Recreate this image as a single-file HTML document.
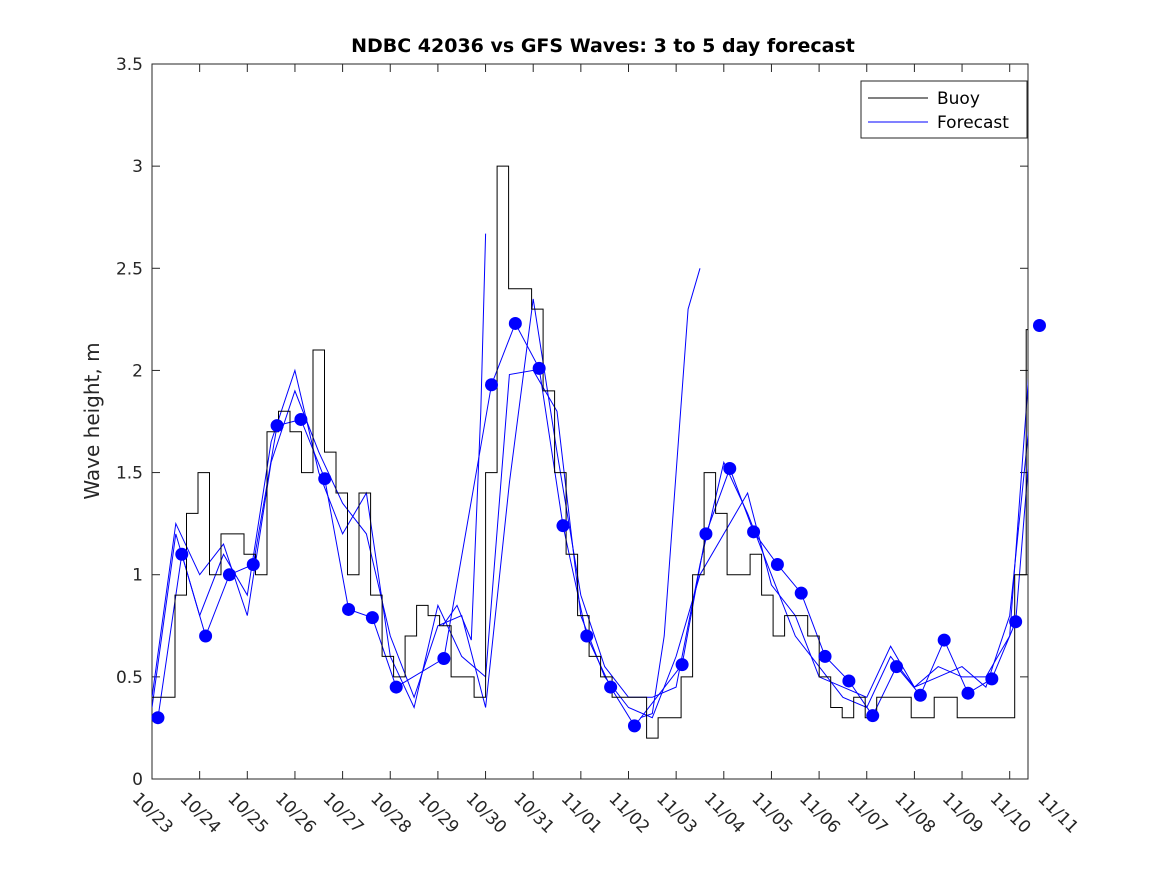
<!DOCTYPE html>
<html><head><meta charset="utf-8"><style>
body{margin:0;background:#fff;}
svg{display:block;font-family:"DejaVu Sans","Liberation Sans",sans-serif;}
</style></head><body>
<svg id="chart" width="1167" height="875">
<rect width="1167" height="875" fill="#fff"/>
<g id="plot"></g>
</svg>
<script>
const yTicks=[0,0.5,1,1.5,2,2.5,3,3.5];
const yTickLabels=["0","0.5","1","1.5","2","2.5","3","3.5"];
const xTickLabels=["10/23","10/24","10/25","10/26","10/27","10/28","10/29","10/30","10/31","11/01","11/02","11/03","11/04","11/05","11/06","11/07","11/08","11/09","11/10","11/11"];
const buoyStep=0.2414;
const buoyValues=[0.4,0.4,0.9,1.3,1.5,1.0,1.2,1.2,1.1,1.0,1.7,1.8,1.7,1.5,2.1,1.6,1.4,1.0,1.4,0.9,0.6,0.5,0.7,0.85,0.8,0.75,0.5,0.5,0.4,1.5,3.0,2.4,2.4,2.3,1.9,1.5,1.1,0.8,0.6,0.5,0.4,0.4,0.4,0.2,0.3,0.3,0.5,1.0,1.5,1.3,1.0,1.0,1.1,0.9,0.7,0.8,0.8,0.7,0.5,0.35,0.3,0.4,0.3,0.4,0.4,0.4,0.3,0.3,0.4,0.4,0.3,0.3,0.3,0.3,0.3,1.0,2.2,2.3];
const dotTimes=[0.125,0.625,1.125,1.625,2.125,2.625,3.125,3.625,4.125,4.625,5.125,6.125,7.125,7.625,8.125,8.625,9.125,9.625,10.125,11.125,11.625,12.125,12.625,13.125,13.625,14.125,14.625,15.125,15.625,16.125,16.625,17.125,17.625,18.125,18.625];
const dotValues=[0.3,1.1,0.7,1.0,1.05,1.73,1.76,1.47,0.83,0.79,0.45,0.59,1.93,2.23,2.01,1.24,0.7,0.45,0.26,0.56,1.2,1.52,1.21,1.05,0.91,0.6,0.48,0.31,0.55,0.41,0.68,0.42,0.49,0.77,2.22];
const runStep=0.5;
const runB=[0.4,1.25,1.0,1.15,0.8,1.55,1.9,1.6,1.35,1.2,0.7,0.4,0.75,0.8,0.35,1.45,2.35,1.6,0.9,0.55,0.4,0.4,0.45,1.05,1.55,1.3,1.0,0.7,0.55,0.4,0.35,0.6,0.45,0.55,0.5,0.5,0.7,2.3,1.9];
const runC=[0.35,1.2,0.8,1.1,0.9,1.65,2.0,1.5,1.2,1.4,0.6,0.35,0.85,0.6,0.5,1.98,2.0,1.8,0.8,0.5,0.35,0.3,0.6,1.0,1.2,1.4,0.95,0.8,0.5,0.45,0.4,0.65,0.45,0.5,0.55,0.45,0.8,1.95,2.1];
const spikeTimes=[10.25,10.5,10.75,11.0,11.25,11.5];
const spikeValues=[0.3,0.32,0.7,1.5,2.3,2.5];
const earlyTimes=[6.1,6.4,6.7,6.9,7.0];
const earlyValues=[0.75,0.85,0.68,1.8,2.67];

const X0=152,X1=1028,Y0=779,Y1=64,PXDAY=47.65;
const xs=d=>X0+d*PXDAY;
const ys=v=>Y0-(v/3.5)*(Y0-Y1);
const NS="http://www.w3.org/2000/svg";
const g=document.getElementById('plot');
function mk(tag,attrs,parent){const e=document.createElementNS(NS,tag);for(const k in attrs)e.setAttribute(k,attrs[k]);(parent||g).appendChild(e);return e;}

const defs=mk('defs',{});const cp=mk('clipPath',{id:'clip'},defs);mk('rect',{x:X0,y:Y1,width:X1-X0,height:Y0-Y1},cp);

const box=mk('rect',{x:X0,y:Y1,width:X1-X0,height:Y0-Y1,fill:'none',stroke:'#262626','stroke-width':1});



yTicks.forEach((v,i)=>{
  const y=ys(v);
  mk('line',{x1:X0,x2:X0+8,y1:y,y2:y,stroke:'#262626'});
  mk('line',{x1:X1,x2:X1-8,y1:y,y2:y,stroke:'#262626'});
  const t=mk('text',{x:X0-9,y:y+6,'text-anchor':'end','font-size':17,fill:'#262626'});
  t.textContent=yTickLabels[i];
  
  
});
xTickLabels.forEach((lab,i)=>{
  const x=xs(i);
  if(x<=X1){
    mk('line',{x1:x,x2:x,y1:Y0,y2:Y0-8,stroke:'#262626'});
    mk('line',{x1:x,x2:x,y1:Y1,y2:Y1+8,stroke:'#262626'});
  }
  const t=mk('text',{x:x-12,y:Y0+12,'font-size':17,fill:'#262626',transform:`rotate(45 ${x-12} ${Y0+12})`,'dominant-baseline':'hanging'});
  t.textContent=lab;
  
  
});

const pg=mk('g',{'clip-path':'url(#clip)'});
function poly(times,vals,color,name,step){
  let d='';
  times.forEach((t,i)=>{
    if(step&&i>0){d+=`H${xs(t).toFixed(1)}`;}
    d+=(i?'L':'M')+xs(t).toFixed(1)+','+ys(vals[i]).toFixed(1);
  });
  const p=mk('path',{d:d,fill:'none',stroke:color,'stroke-width':1},pg);
  
  
}
const runTimes=runB.map((_,i)=>i*runStep);
poly(runTimes,runB,'#0000ff','forecast-run-b');
poly(runTimes.slice(0,runC.length),runC,'#0000ff','forecast-run-c');
poly(dotTimes,dotValues,'#0000ff','forecast-run-a');
poly(spikeTimes,spikeValues,'#0000ff','forecast-spike');
poly(earlyTimes,earlyValues,'#0000ff','forecast-early-spike');
const buoyTimes=buoyValues.map((_,i)=>i*buoyStep);
poly(buoyTimes,buoyValues,'#000','buoy-line',true);

dotTimes.forEach((t,i)=>{
  const c=mk('circle',{cx:xs(t),cy:ys(dotValues[i]),r:6.5,fill:'#0000ff'});
  
  
});

const tt=mk('text',{x:603,y:52,'text-anchor':'middle','font-size':19,'font-weight':'bold',fill:'#000'});
tt.textContent='NDBC 42036 vs GFS Waves: 3 to 5 day forecast';


const yl=mk('text',{x:99,y:421,'text-anchor':'middle','font-size':20,fill:'#262626',transform:'rotate(-90 99 421)'});
yl.textContent='Wave height, m';



const lg=mk('g',{});


mk('rect',{x:861,y:81,width:166,height:57,fill:'#fff',stroke:'#262626'},lg);
mk('line',{x1:868,x2:928,y1:98,y2:98,stroke:'#000'},lg);
mk('line',{x1:868,x2:928,y1:122,y2:122,stroke:'#0000ff'},lg);
const l1=mk('text',{x:937,y:104,'font-size':17,fill:'#000'},lg);l1.textContent='Buoy';


const l2=mk('text',{x:937,y:128,'font-size':17,fill:'#000'},lg);l2.textContent='Forecast';


</script>
</body></html>
